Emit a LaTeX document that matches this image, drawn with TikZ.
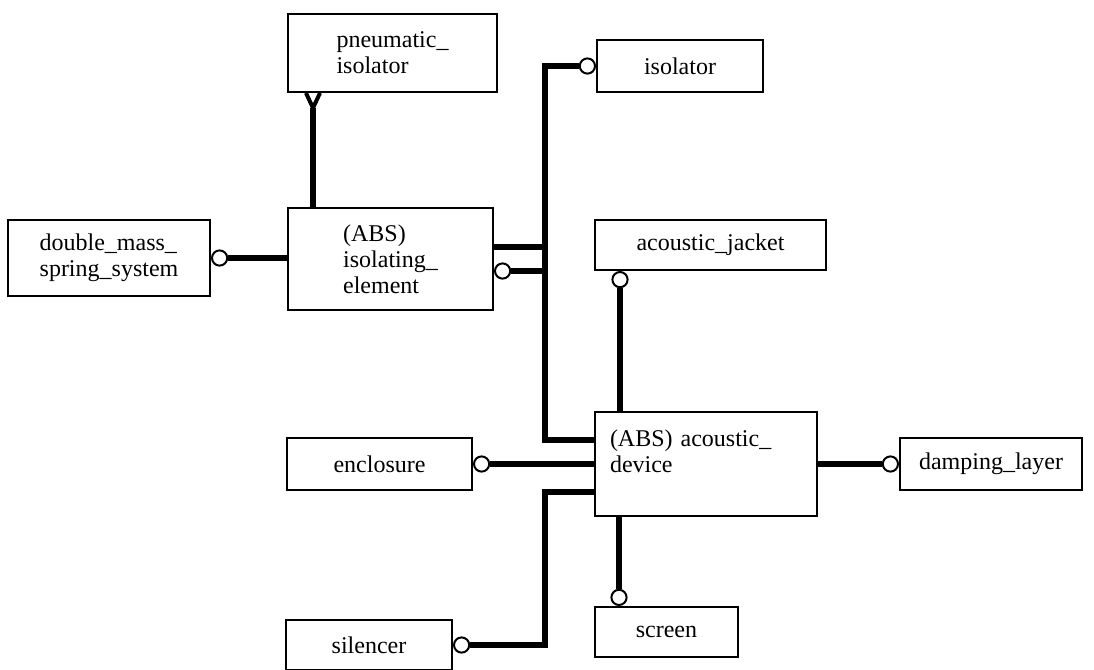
\documentclass[tikz,border=0pt]{standalone}
\usepackage{fontspec}
\setmainfont{Liberation Serif}
\usetikzlibrary{positioning, calc}

\begin{document}
\begin{tikzpicture}[
  x=0.5pt, y=-0.5pt,
  ent/.style   = {draw, line width=1pt, align=left, inner sep=0pt,
                  font=\fontsize{12}{13}\selectfont},
  ring/.style  = {circle, draw, fill=white, line width=1pt,
                  inner sep=0pt, minimum size=7.6pt},
  conn/.style  = {line width=2.6pt},
  bus/.style   = {line width=3.4pt}
]
\useasboundingbox (0,0) rectangle (1094,670);

% Isolating element (top-left)
\node[ent, minimum width=104.5pt, minimum height=39pt]   (pneu)  at (392.5,53)  {pneumatic\_\\isolator};
\node[ent, minimum width=102.5pt, minimum height=51pt]   (isoel) at (390.5,259) {(ABS)\\isolating\_\\element};
\node[ent, minimum width=101pt,   minimum height=38pt]   (dmss)  at (109,258)   {double\_mass\_\\spring\_system};
\node[ent, minimum width=83pt,    minimum height=26pt]   (iso)   at (680,66)    {isolator};

% Acoustic device (right)
\node[ent, minimum width=115.5pt, minimum height=25pt]   (jacket) at (710.5,245) {acoustic\_jacket};
\node[ent, minimum width=111pt,   minimum height=52pt, text width=96pt]
                                                          (acdev) at (706,464)   {(ABS) acoustic\_\\device\\\mbox{}};
\node[ent, minimum width=92.5pt,  minimum height=26pt]   (encl)  at (379.5,464) {enclosure};
\node[ent, minimum width=91pt,    minimum height=26pt]   (damp)  at (991,464)   {damping\_layer};
\node[ent, minimum width=83pt,    minimum height=25pt]   (sil)   at (369,645)   {silencer};
\node[ent, minimum width=71.5pt,  minimum height=25pt]   (scr)   at (666.5,632) {screen};

% Rings
\node[ring, left=0pt of iso]                              (isoR) {};
\node[ring, right=0pt of dmss]                            (dmR)  {};
\node[ring, anchor=west] at (isoel.east |- 0,271)        (ieR)  {};
\node[ring, anchor=north] at ([xshift=13pt]jacket.south west) (jkR) {};
\node[ring, right=0pt of encl]                            (enR)  {};
\node[ring, left=0pt of damp]                             (dpR)  {};
\node[ring, right=0pt of sil]                             (siR)  {};
\node[ring, anchor=south] at ([xshift=12.5pt]scr.north west) (scR) {};

% Bus
\coordinate (tTop) at (545,66);
\coordinate (tBot) at (545,440);
\coordinate (ieA)  at (isoel.east |- 0,247);
\coordinate (sk)   at (545,492);
\coordinate (pfork) at (313,108);

\draw[bus]  (isoR.west) -- (tTop) -- (tBot) -- (acdev.west |- tBot);
\draw[conn] (ieA) -- (ieA -| tTop);
\draw[conn] (ieR.east) -- (ieR -| tTop);
\draw[conn] (dmR.east) -- (dmR -| isoel.west);

% Pneumatic fork
\draw[conn] (pfork) -- (pfork |- isoel.north);
\draw[line width=2pt] ([xshift=-3.5pt]pfork |- pneu.south) -- (pfork) -- ([xshift=3.5pt]pfork |- pneu.south);

% Acoustic links
\draw[conn] (jkR.south) -- (jkR |- acdev.north);
\draw[conn] (enR.east) -- (enR -| acdev.west);
\draw[conn] (acdev.east |- dpR) -- (dpR.west);
\draw[conn] (scR |- acdev.south) -- (scR.north);
\draw[bus]  (acdev.west |- sk) -- (sk) -- (sk |- siR) -- (siR.east);

\end{tikzpicture}
\end{document}
